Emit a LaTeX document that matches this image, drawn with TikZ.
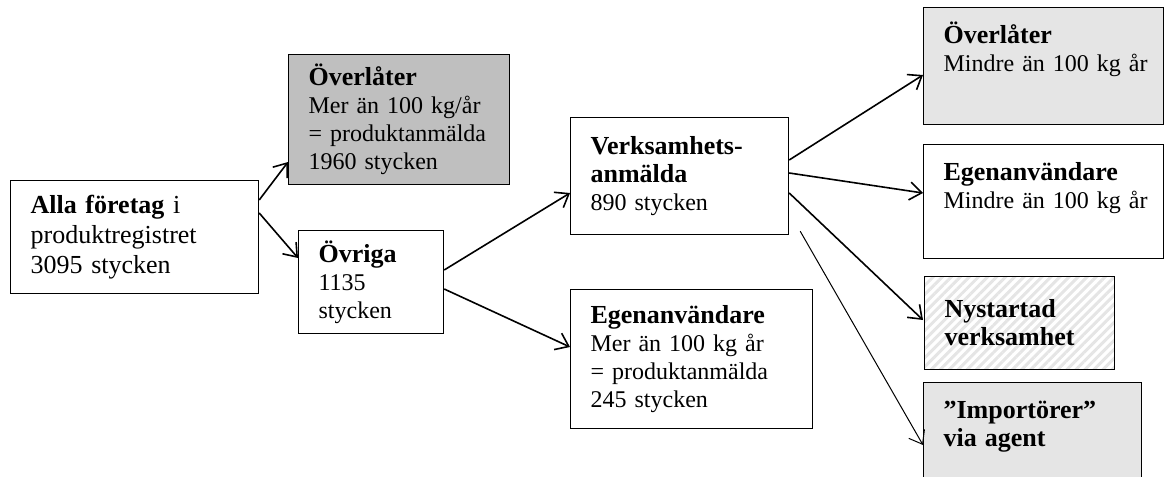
\documentclass[tikz,border=0pt,12pt]{standalone}
\usepackage{fontspec}
\setmainfont{Liberation Serif}
\usetikzlibrary{arrows.meta,patterns.meta}

\colorlet{darkgrey}{black!25}
\colorlet{lightgrey}{black!10}
\colorlet{hatchgrey}{black!10}

\newcommand{\rubrik}[1]{{\fontsize{13}{14}\selectfont\bfseries #1}}

\tikzset{
  box/.style={draw, line width=0.6pt, anchor=north west, align=left,
    inner xsep=10pt, inner ysep=3pt, font=\fontsize{12}{14}\selectfont},
  topbox/.style={box, inner ysep=7pt, text height=11pt},
  arr/.style={-{Straight Barb[length=6pt,width=9pt]}, line width=0.8pt}
}

\begin{document}
\begin{tikzpicture}[x=0.5pt, y=-0.5pt]
  \useasboundingbox (0,0) rectangle (1164,477);

  % first column
  \node[box, font=\fontsize{13}{15}\selectfont, text width=104pt, minimum height=56.5pt] (alla) at (10,180)
    {\rubrik{Alla företag} i\\produktregistret\\3095 stycken};

  % second column
  \node[box, fill=darkgrey, text width=90.5pt, minimum height=65pt] (overlater) at (288,54)
    {\rubrik{Överlåter}\\Mer än 100 kg/år\\= produktanmälda\\1960 stycken};
  \node[box, text width=52.5pt, minimum height=51.5pt] (ovriga) at (298,230)
    {\rubrik{Övriga}\\1135\\stycken};

  % third column
  \node[box, text width=89pt, minimum height=58.5pt] (verks) at (570,117)
    {\rubrik{Verksamhets-}\\\rubrik{anmälda}\\890 stycken};
  \node[box, text width=101pt, minimum height=69.5pt] (egen) at (570,289)
    {\rubrik{Egenanvändare}\\Mer än 100 kg år\\= produktanmälda\\245 stycken};

  % last column
  \node[topbox, fill=lightgrey, text width=100pt, text depth=33.5pt] (overmindre) at (923,7)
    {\rubrik{Överlåter}\\Mindre~än~100~kg~år};
  \node[topbox, text width=100pt, text depth=32pt] (egenmindre) at (923,144)
    {\rubrik{Egenanvändare}\\Mindre~än~100~kg~år};
  \node[box, pattern={Lines[angle=45,distance=3.2pt,line width=1.5pt]}, pattern color=hatchgrey,
    text width=75pt, minimum height=46.5pt] (nystartad) at (923,275)
    {\rubrik{Nystartad}\\\rubrik{verksamhet}};
  \node[topbox, fill=lightgrey, text width=89pt, text depth=40pt] (import) at (923,382)
    {\rubrik{”Importörer”}\\\rubrik{via agent}};

  % arrows
  \foreach \s/\ys/\t/\yt in {alla/-10/overlater/-54, alla/-16.5/ovriga/-14,
      ovriga/-20/verks/-38, ovriga/-29.5/egen/-29,
      verks/-21.5/overmindre/-34, verks/-28/egenmindre/-24.5,
      verks/-38/nystartad/-22.5}
    \draw[arr] ([yshift=\ys pt]\s.north east) -- ([yshift=\yt pt]\t.north west);
  \draw[arr, line width=0.5pt] ([shift={(5.5pt,2pt)}]verks.south east) -- ([yshift=-31.5pt]import.north west);
\end{tikzpicture}
\end{document}
